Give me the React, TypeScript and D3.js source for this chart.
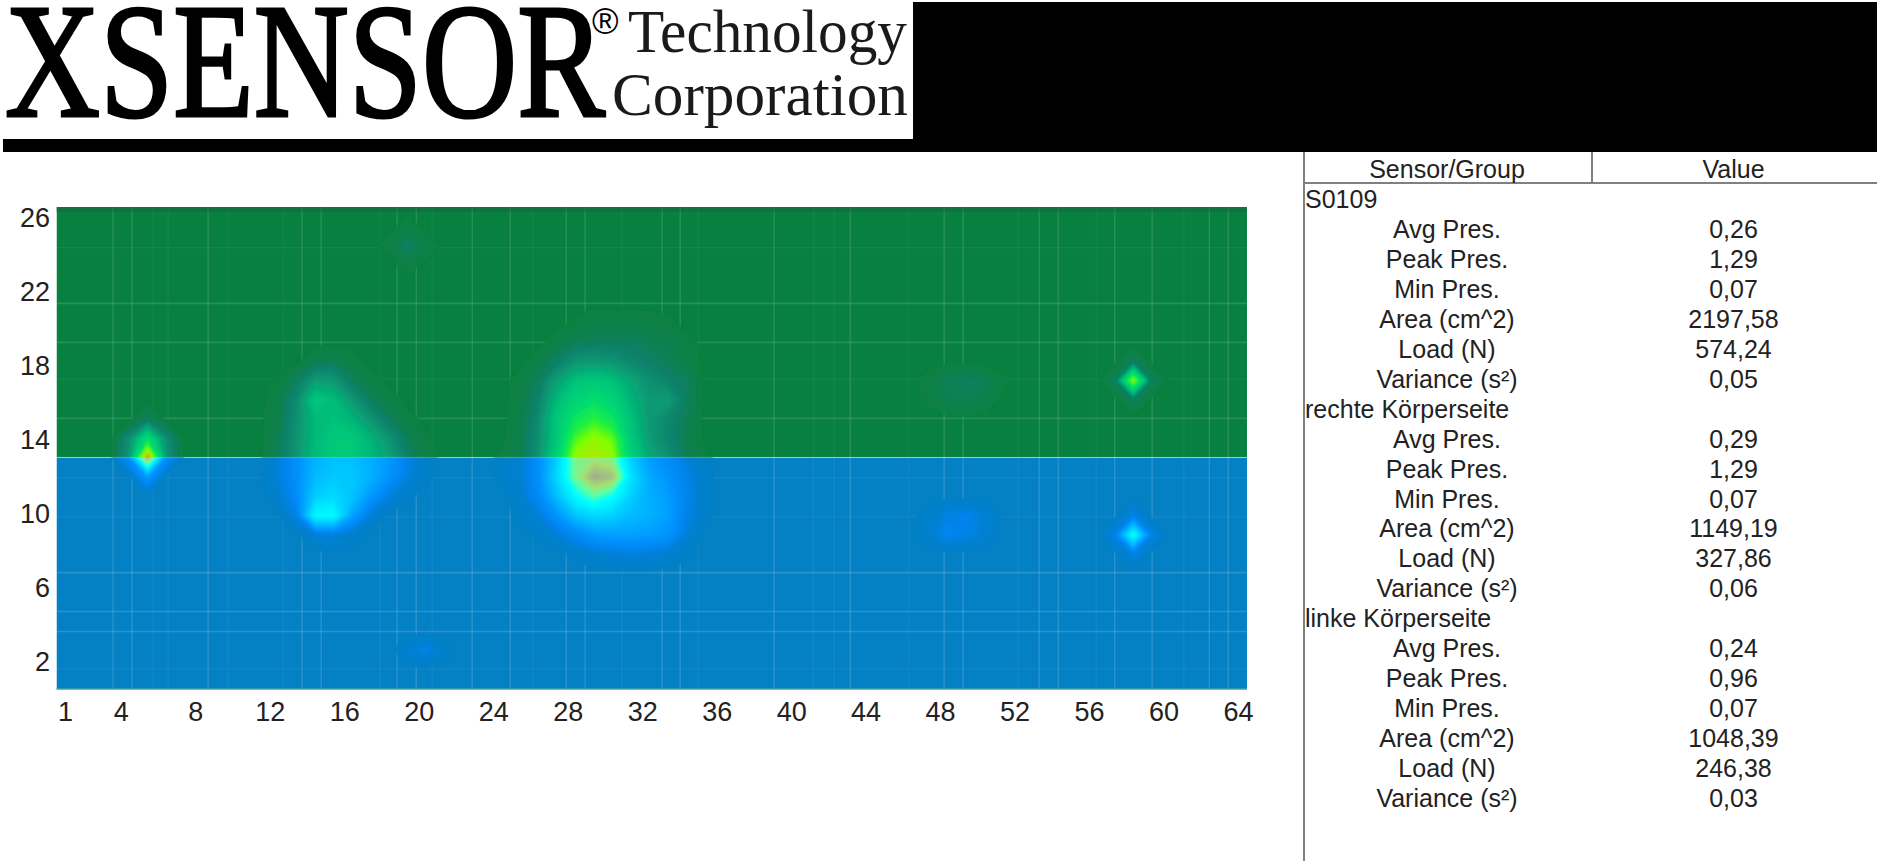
import { useEffect, useRef } from 'react';
import * as d3 from 'd3';

// sensor matrix size
const COLS = 64;
const ROWS = 26;

const xTicks = [1, 4, 8, 12, 16, 20, 24, 28, 32, 36, 40, 44, 48, 52, 56, 60, 64];
const yTicks = [2, 6, 10, 14, 18, 22, 26];

// pressure readings, only non empty sensors: [row, first column, values]
const spotReadings: [number, number, number[]][] = [
  [15, 5, [0.1]],
  [14, 4, [0.2, 0.62, 0.2]],
  [13, 4, [0.24, 1.29, 0.24]],
  [12, 5, [0.3]],
  [18, 58, [0.1]],
  [17, 57, [0.1, 1.0, 0.1]],
  [16, 58, [0.1]],
  [10, 58, [0.12]],
  [9, 57, [0.12, 0.82, 0.12]],
  [8, 58, [0.12]],
  [24, 18, [0.03, 0.12, 0.05]],
  [25, 19, [0.03]],
  [23, 19, [0.03]],
  [3, 19, [0.06, 0.13, 0.03]],
  [17, 47, [0.03, 0.09, 0.1, 0.09, 0.02]],
  [16, 47, [0.02, 0.07, 0.08, 0.06]],
  [10, 47, [0.04, 0.11, 0.14, 0.08]],
  [9, 47, [0.05, 0.15, 0.12, 0.07]],
];

const leftBlobReadings: [number, number, number[]][] = [
  [18, 14, [0.06, 0.08, 0.03]],
  [17, 12, [0.02, 0.1, 0.26, 0.24, 0.1, 0.03]],
  [16, 12, [0.04, 0.18, 0.46, 0.4, 0.24, 0.1, 0.04]],
  [15, 12, [0.05, 0.2, 0.38, 0.42, 0.36, 0.22, 0.1, 0.03]],
  [14, 12, [0.07, 0.22, 0.38, 0.46, 0.46, 0.36, 0.22, 0.08, 0.02]],
  [13, 12, [0.08, 0.22, 0.4, 0.46, 0.46, 0.38, 0.28, 0.12, 0.03]],
  [12, 12, [0.08, 0.22, 0.44, 0.5, 0.5, 0.4, 0.25, 0.1, 0.02]],
  [11, 12, [0.05, 0.2, 0.52, 0.58, 0.48, 0.28, 0.1, 0.02]],
  [10, 13, [0.12, 0.74, 0.78, 0.34, 0.08]],
  [9, 14, [0.08, 0.1, 0.04]],
];

const rightBlobReadings: [number, number, number[]][] = [
  [20, 28, [0.02, 0.04, 0.04, 0.04, 0.03, 0.02]],
  [19, 27, [0.03, 0.08, 0.1, 0.1, 0.1, 0.08, 0.06, 0.03]],
  [18, 26, [0.04, 0.12, 0.22, 0.24, 0.22, 0.16, 0.12, 0.08, 0.04]],
  [17, 25, [0.03, 0.1, 0.28, 0.42, 0.46, 0.42, 0.3, 0.2, 0.14, 0.1]],
  [16, 25, [0.03, 0.14, 0.38, 0.55, 0.62, 0.54, 0.36, 0.24, 0.26, 0.1]],
  [15, 25, [0.04, 0.18, 0.46, 0.68, 0.8, 0.68, 0.42, 0.24, 0.16, 0.08]],
  [14, 25, [0.05, 0.2, 0.46, 0.86, 1.0, 0.9, 0.46, 0.26, 0.16, 0.06]],
  [13, 24, [0.02, 0.06, 0.22, 0.52, 1.02, 1.06, 1.0, 0.52, 0.3, 0.2, 0.08, 0.02]],
  [12, 24, [0.02, 0.06, 0.22, 0.58, 1.0, 1.29, 1.22, 0.62, 0.36, 0.25, 0.12, 0.02]],
  [11, 25, [0.04, 0.18, 0.46, 0.76, 0.95, 0.8, 0.54, 0.38, 0.3, 0.14, 0.02]],
  [10, 25, [0.02, 0.08, 0.26, 0.48, 0.58, 0.54, 0.44, 0.4, 0.32, 0.12, 0.02]],
  [9, 26, [0.02, 0.08, 0.18, 0.28, 0.32, 0.32, 0.3, 0.26, 0.08]],
  [8, 28, [0.02, 0.05, 0.08, 0.1, 0.08, 0.05, 0.02]],
];

// light grid lines, in sensor units
const gridColumns = [
  3.54, 4.56, 8.65, 13.7, 14.73, 18.81, 19.84, 22.85, 24.89, 27.9, 28.92, 33.06, 34.03, 39.08,
  43.17, 48.22, 49.24, 53.33, 54.35, 57.39, 59.4, 62.47, 63.49,
];
const faintColumns = [5.7, 6.5, 9.7, 12.7, 17.9, 20.7, 26.1, 30.9, 35, 41.2, 42.3, 46.3, 52.2, 56.4, 61.1];
const gridRows = [21.3, 19.2, 15.1, 6.78, 4.68, 3.6];
const faintRows = [24.3, 17.2, 11.9, 9.8, 1.6];

// colour ramps of the two halves
const rampStops = [0, 0.06, 0.12, 0.25, 0.42, 0.6, 0.78, 0.95, 1.1, 1.29];
const upperColors = ['#08803f', '#088050', '#08806a', '#0a9c74', '#00c47a', '#00dc70', '#20f040', '#80ff00', '#c0e000', '#a08020'];
const lowerColors = ['#0480c5', '#0580d0', '#0684ec', '#0094ff', '#00b8ff', '#00e0ff', '#00ffff', '#60ffa0', '#a8e070', '#a0a890'];

const measures = ['Avg Pres.', 'Peak Pres.', 'Min Pres.', 'Area (cm^2)', 'Load (N)', 'Variance (s²)'];
const groups = ['S0109', 'rechte Körperseite', 'linke Körperseite'];
const groupValues = [
  ['0,26', '1,29', '0,07', '2197,58', '574,24', '0,05'],
  ['0,29', '1,29', '0,07', '1149,19', '327,86', '0,06'],
  ['0,24', '0,96', '0,07', '1048,39', '246,38', '0,03'],
];

const SANS = '"Liberation Sans", Arial, sans-serif';
const SERIF = '"Liberation Serif", "Times New Roman", serif';

export default function App() {
  const svgRef = useRef<SVGSVGElement>(null);

  useEffect(() => {
    if (!svgRef.current) return;
    const svg = d3.select(svgRef.current);
    svg.selectAll('*').remove();

    svg.append('rect').attr('width', 1880).attr('height', 863).attr('fill', '#fff');

    // Header
    svg.append('rect').attr('x', 913).attr('y', 2).attr('width', 964).attr('height', 150).attr('fill', '#000');
    svg.append('rect').attr('x', 3).attr('y', 139).attr('width', 912).attr('height', 13).attr('fill', '#000');
    const logo = svg.append('g').attr('font-family', SERIF).attr('fill', '#000');
    logo.append('text')
      .attr('x', 5).attr('y', 116)
      .attr('font-size', 163)
      .attr('stroke', '#000').attr('stroke-width', 3.2)
      .attr('textLength', 600).attr('lengthAdjust', 'spacingAndGlyphs')
      .text('XSENSOR');
    logo.append('text').attr('x', 592).attr('y', 34).attr('font-size', 36).attr('font-family', SANS).text('®');
    logo.append('text')
      .attr('x', 628).attr('y', 52).attr('font-size', 62)
      .attr('fill', '#1a1a1a')
      .attr('textLength', 279).attr('lengthAdjust', 'spacingAndGlyphs')
      .text('Technology');
    logo.append('text')
      .attr('x', 612).attr('y', 115).attr('font-size', 62)
      .attr('fill', '#1a1a1a')
      .attr('textLength', 296).attr('lengthAdjust', 'spacingAndGlyphs')
      .text('Corporation');

    // Plot frame
    const plot = { left: 56.5, right: 1247, top: 207, split: 457.5, bottom: 689 };
    const xGrid = d3.scaleLinear().domain([0.5, COLS + 0.5]).range([plot.left, plot.right]);
    const yGrid = d3.scaleLinear().domain([0.5, ROWS + 0.5]).range([plot.bottom, plot.top]);
    // the contour field sits slightly offset from the printed axes
    const xField = d3.scaleLinear().domain([0, COLS]).range([63.8, 1254.2]);
    const yField = d3.scaleLinear().domain([0.5, ROWS - 0.5]).range([plot.top, plot.bottom]);

    const defs = svg.append('defs');
    defs.append('clipPath').attr('id', 'upper-half').append('rect')
      .attr('x', plot.left).attr('y', plot.top)
      .attr('width', plot.right - plot.left).attr('height', plot.split - plot.top);
    defs.append('clipPath').attr('id', 'lower-half').append('rect')
      .attr('x', plot.left).attr('y', plot.split)
      .attr('width', plot.right - plot.left).attr('height', plot.bottom - plot.split);
    defs.append('filter').attr('id', 'soften')
      .attr('x', '-5%').attr('y', '-5%').attr('width', '110%').attr('height', '110%')
      .append('feGaussianBlur').attr('stdDeviation', 1.2);

    // Pressure field
    const field = new Array(COLS * ROWS).fill(0);
    [...spotReadings, ...leftBlobReadings, ...rightBlobReadings].forEach(([row, first, values]) => {
      values.forEach((v, i) => {
        field[(ROWS - row) * COLS + first - 1 + i] = v;
      });
    });
    const levels = d3.range(0.012, 1.29, 0.016);
    const contours = d3.contours().size([COLS, ROWS]).smooth(true).thresholds(levels)(field);
    const path = d3.geoPath(d3.geoTransform({
      point(u, v) {
        this.stream.point(xField(u), yField(v));
      },
    }));

    const drawHalf = (clip: string, colors: string[], lineOpacity: number, y0: number, y1: number) => {
      const ramp = d3.scaleLinear<string>().domain(rampStops).range(colors).interpolate(d3.interpolateRgb);
      const half = svg.append('g').attr('clip-path', `url(#${clip})`);
      half.append('rect')
        .attr('x', plot.left).attr('y', y0)
        .attr('width', plot.right - plot.left).attr('height', y1 - y0)
        .attr('fill', colors[0]);

      half.selectAll('line.row')
        .data(gridRows)
        .enter().append('line')
        .attr('class', 'row')
        .attr('x1', plot.left).attr('x2', plot.right)
        .attr('y1', d => yGrid(d)).attr('y2', d => yGrid(d))
        .attr('stroke', '#fff').attr('stroke-opacity', lineOpacity).attr('stroke-width', 1.6);
      half.selectAll('line.faint')
        .data(faintRows)
        .enter().append('line')
        .attr('class', 'faint')
        .attr('x1', plot.left).attr('x2', plot.right)
        .attr('y1', d => yGrid(d)).attr('y2', d => yGrid(d))
        .attr('stroke', '#fff').attr('stroke-opacity', lineOpacity * 0.35).attr('stroke-width', 1.6);
      half.selectAll('line.col')
        .data(gridColumns)
        .enter().append('line')
        .attr('class', 'col')
        .attr('x1', d => xGrid(d)).attr('x2', d => xGrid(d))
        .attr('y1', plot.top).attr('y2', plot.bottom)
        .attr('stroke', '#fff').attr('stroke-opacity', lineOpacity).attr('stroke-width', 1.4);
      half.selectAll('line.faint-col')
        .data(faintColumns)
        .enter().append('line')
        .attr('class', 'faint-col')
        .attr('x1', d => xGrid(d)).attr('x2', d => xGrid(d))
        .attr('y1', plot.top).attr('y2', plot.bottom)
        .attr('stroke', '#fff').attr('stroke-opacity', lineOpacity * 0.25).attr('stroke-width', 2);

      half.append('g')
        .attr('filter', 'url(#soften)')
        .selectAll('path')
        .data(contours)
        .enter().append('path')
        .attr('d', d => path(d))
        .attr('fill', d => ramp(d.value));
    };
    drawHalf('upper-half', upperColors, 0.13, plot.top, plot.split);
    drawHalf('lower-half', lowerColors, 0.15, plot.split, plot.bottom);

    // Frame details
    svg.append('rect')
      .attr('x', plot.left).attr('y', plot.top)
      .attr('width', plot.right - plot.left).attr('height', 5)
      .attr('fill', '#1c5f45').attr('fill-opacity', 0.45);
    svg.append('line')
      .attr('x1', plot.left).attr('x2', plot.right)
      .attr('y1', plot.split).attr('y2', plot.split)
      .attr('stroke', '#fff').attr('stroke-opacity', 0.1).attr('stroke-width', 1.5);
    svg.append('line')
      .attr('x1', plot.left).attr('x2', plot.right)
      .attr('y1', plot.bottom).attr('y2', plot.bottom)
      .attr('stroke', '#3fa0a8').attr('stroke-width', 1.5);

    // Axes
    const xAxisScale = d3.scaleLinear().domain([1, 64]).range([65, 1238]);
    const yAxisScale = d3.scaleLinear().domain([2, 26]).range([662, 218]);
    const xAxis = svg.append('g')
      .attr('transform', 'translate(0,700)')
      .call(d3.axisBottom(xAxisScale).tickValues(xTicks).tickFormat(d3.format('d')).tickSize(0));
    const yAxis = svg.append('g')
      .attr('transform', 'translate(50,0)')
      .call(d3.axisLeft(yAxisScale).tickValues(yTicks).tickFormat(d3.format('d')).tickSize(0));
    [xAxis, yAxis].forEach(axis => {
      axis.select('.domain').remove();
      axis.selectAll('text')
        .attr('fill', '#222')
        .style('font-family', SANS)
        .style('font-size', '27px');
    });
    xAxis.selectAll('text').attr('y', 0).attr('dy', '0.79em');
    yAxis.selectAll('text').attr('x', 0);

    // Table
    const table = { left: 1304, mid: 1592, right: 1877, top: 152, head: 183, bottom: 861 };
    const labelX = (table.left + table.mid) / 2 - 1;
    const valueX = (table.mid + table.right) / 2 - 1;
    const lines = svg.append('g').attr('stroke', '#808080').attr('stroke-width', 2);
    lines.append('line').attr('x1', table.left).attr('x2', table.left).attr('y1', table.top).attr('y2', table.bottom);
    lines.append('line').attr('x1', table.mid).attr('x2', table.mid).attr('y1', table.top).attr('y2', table.head);
    lines.append('line').attr('x1', table.left).attr('x2', table.right).attr('y1', table.head).attr('y2', table.head);

    const text = svg.append('g').attr('font-family', SANS).attr('font-size', 25).attr('fill', '#222');
    text.append('text').attr('x', labelX).attr('y', 178).attr('text-anchor', 'middle').text('Sensor/Group');
    text.append('text').attr('x', valueX).attr('y', 178).attr('text-anchor', 'middle').text('Value');

    const rowY = d3.scaleLinear().domain([0, 20]).range([208, 807]);
    groups.forEach((group, g) => {
      const start = g * (measures.length + 1);
      text.append('text').attr('x', table.left + 1).attr('y', rowY(start)).text(group);
      measures.forEach((measure, m) => {
        text.append('text')
          .attr('x', labelX).attr('y', rowY(start + m + 1))
          .attr('text-anchor', 'middle').text(measure);
        text.append('text')
          .attr('x', valueX).attr('y', rowY(start + m + 1))
          .attr('text-anchor', 'middle').text(groupValues[g][m]);
      });
    });
  }, []);

  return <svg ref={svgRef} width={1880} height={863} style={{ position: 'absolute', left: 0, top: 0, display: 'block' }} />;
}
